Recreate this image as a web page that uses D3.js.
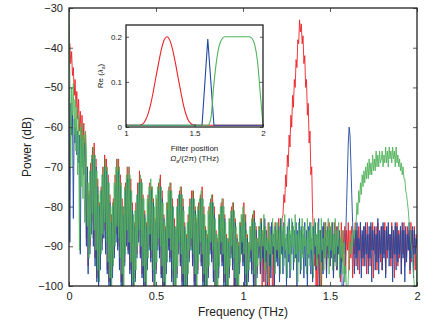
<!DOCTYPE html>
<html>
<head>
<meta charset="utf-8">
<script src="https://cdn.jsdelivr.net/npm/d3@7"></script>
<style>
  body { margin: 0; background: #fff; }
  svg { display: block; font-family: "Liberation Sans", Arial, sans-serif; }
</style>
</head>
<body>
<div id="chart"></div>
<script>
// Spectra sampled every 0.005 THz from 0 to 2 THz (dB), one row per 0.1 THz
const freqStep = 0.005;
const redPower = [
  -40, -39, -44, -41, -47, -45, -52, -48, -55, -51, -58, -53, -61, -56, -63, -57, -65, -59, -67, -61,
  -88, -70, -95, -76, -90, -69, -84, -65, -88, -64, -93, -68, -98, -73, -101, -79, -94, -75, -89, -70,
  -86, -67, -91, -68, -96, -72, -99, -77, -103, -82, -97, -78, -92, -72, -87, -68, -90, -68, -95, -72,
  -99, -78, -102, -80, -94, -74, -88, -70, -91, -70, -96, -73, -100, -79, -104, -84, -98, -79, -92, -74,
  -88, -71, -92, -73, -97, -77, -101, -81, -104, -84, -95, -77, -90, -74, -93, -75, -98, -78, -102, -83,
  -96, -78, -90, -74, -92, -72, -97, -76, -101, -82, -106, -85, -96, -79, -90, -75, -93, -74, -98, -78,
  -102, -83, -104, -85, -97, -78, -91, -76, -94, -75, -99, -78, -103, -84, -107, -87, -99, -82, -93, -78,
  -90, -76, -94, -76, -99, -80, -103, -83, -96, -79, -91, -77, -94, -75, -99, -80, -102, -85, -107, -87,
  -97, -80, -91, -78, -93, -77, -98, -80, -102, -86, -105, -88, -97, -82, -91, -79, -94, -78, -99, -82,
  -103, -87, -105, -88, -97, -83, -92, -80, -95, -79, -100, -83, -103, -87, -105, -89, -96, -84, -91, -82,
  -94, -79, -99, -82, -102, -87, -98, -89, -93, -85, -96, -82, -99, -81, -103, -85, -97, -88, -92, -85,
  -96, -83, -101, -86, -94, -85, -104, -88, -97, -84, -103, -90, -95, -85, -106, -89, -100, -84, -93, -86,
  -93, -83, -97, -84, -90, -83, -82, -77, -79, -72, -75, -67, -70, -62, -65, -57, -60, -52, -55, -48,
  -50, -43, -45, -38, -39, -33, -36, -34, -39, -37, -44, -42, -50, -48, -57, -54, -64, -61, -72, -70,
  -82, -87, -95, -88, -101, -92, -105, -89, -98, -86, -104, -90, -96, -85, -93, -84, -97, -86, -92, -84,
  -95, -85, -92, -87, -98, -84, -93, -86, -96, -85, -91, -87, -99, -84, -94, -86, -92, -85, -97, -86,
  -91, -84, -96, -86, -93, -85, -98, -87, -92, -84, -95, -86, -91, -85, -97, -84, -93, -87, -95, -85,
  -92, -86, -97, -84, -93, -87, -95, -85, -91, -84, -98, -86, -92, -85, -96, -84, -93, -87, -94, -85,
  -96, -85, -92, -84, -97, -86, -93, -85, -91, -87, -95, -84, -93, -86, -98, -85, -92, -84, -95, -86,
  -93, -85, -97, -86, -92, -84, -95, -87, -93, -85, -91, -86, -97, -84, -94, -86, -92, -85, -96, -87,
  -88
];
const bluePower = [
  -50, -89, -54, -62, -56, -83, -58, -64, -60, -67, -61, -69, -62, -92, -63, -70, -65, -72, -64, -74,
  -90, -70, -97, -77, -92, -71, -87, -68, -90, -67, -95, -70, -99, -75, -102, -80, -96, -76, -91, -72,
  -88, -70, -92, -71, -97, -74, -100, -79, -104, -84, -98, -80, -93, -75, -89, -71, -91, -71, -96, -75,
  -100, -80, -103, -82, -95, -76, -90, -73, -92, -73, -97, -76, -101, -81, -104, -85, -99, -81, -93, -77,
  -89, -74, -93, -74, -98, -78, -102, -82, -105, -85, -96, -79, -91, -76, -94, -76, -99, -79, -103, -84,
  -97, -80, -91, -76, -93, -75, -98, -78, -102, -83, -105, -86, -97, -81, -91, -77, -94, -76, -99, -80,
  -103, -85, -105, -86, -98, -80, -92, -77, -95, -77, -100, -80, -104, -85, -106, -88, -100, -84, -94, -80,
  -91, -78, -95, -78, -100, -81, -104, -84, -97, -81, -92, -78, -95, -78, -100, -82, -103, -86, -106, -88,
  -98, -82, -92, -79, -94, -79, -99, -82, -103, -87, -106, -89, -98, -83, -92, -80, -95, -80, -100, -83,
  -104, -88, -106, -89, -98, -84, -93, -82, -96, -81, -101, -84, -104, -88, -106, -90, -97, -85, -92, -83,
  -95, -82, -100, -84, -103, -88, -99, -90, -94, -86, -97, -84, -100, -83, -104, -86, -98, -89, -93, -86,
  -97, -84, -93, -87, -99, -83, -94, -86, -101, -89, -95, -85, -98, -84, -92, -87, -100, -85, -94, -88,
  -95, -85, -99, -83, -92, -86, -97, -84, -93, -88, -100, -85, -94, -83, -98, -87, -92, -84, -96, -86,
  -93, -84, -100, -86, -94, -83, -97, -85, -92, -87, -98, -84, -95, -86, -101, -85, -93, -84, -97, -88,
  -99, -85, -92, -84, -96, -87, -93, -83, -101, -86, -94, -85, -97, -84, -92, -88, -98, -85, -93, -86,
  -95, -86, -93, -84, -98, -87, -94, -85, -96, -88, -92, -86, -97, -90, -101, -103, -98, -94, -88, -80,
  -72, -64, -60, -62, -69, -77, -84, -90, -97, -86, -93, -84, -96, -88, -91, -84, -98, -86, -93, -85,
  -95, -84, -92, -87, -97, -85, -93, -84, -99, -86, -91, -85, -96, -87, -94, -83, -97, -86, -92, -85,
  -96, -84, -93, -86, -98, -85, -91, -84, -95, -87, -93, -85, -99, -86, -92, -84, -96, -85, -94, -87,
  -92, -85, -97, -84, -93, -86, -99, -85, -94, -87, -91, -84, -96, -86, -93, -85, -98, -86, -92, -88,
  -90
];
const greenPower = [
  -28, -48, -70, -50, -57, -49, -62, -53, -66, -55, -72, -57, -91, -60, -75, -59, -78, -62, -84, -61,
  -66, -85, -74, -93, -71, -88, -67, -82, -65, -86, -67, -91, -71, -96, -77, -99, -76, -92, -72, -87,
  -70, -84, -68, -89, -70, -94, -74, -98, -80, -101, -79, -95, -74, -90, -70, -85, -68, -88, -70, -93,
  -74, -97, -80, -100, -75, -92, -72, -86, -70, -89, -72, -94, -76, -99, -82, -102, -81, -96, -77, -90,
  -74, -86, -72, -90, -74, -95, -78, -99, -83, -103, -78, -93, -75, -87, -73, -91, -75, -96, -80, -100,
  -77, -94, -75, -88, -73, -90, -75, -95, -79, -99, -84, -102, -79, -94, -76, -88, -74, -91, -76, -96,
  -80, -100, -85, -103, -80, -95, -77, -89, -75, -92, -77, -97, -81, -101, -86, -104, -84, -97, -80, -91,
  -78, -88, -76, -92, -78, -97, -82, -101, -80, -94, -78, -89, -76, -92, -78, -97, -82, -100, -86, -103,
  -81, -95, -79, -89, -77, -91, -79, -96, -83, -100, -87, -103, -82, -95, -80, -89, -78, -92, -80, -97,
  -84, -101, -88, -104, -83, -95, -81, -90, -79, -93, -81, -98, -85, -101, -89, -103, -84, -94, -82, -89,
  -80, -92, -82, -97, -86, -100, -89, -96, -85, -91, -83, -94, -81, -97, -84, -101, -88, -95, -85, -90,
  -83, -94, -86, -90, -82, -96, -85, -91, -88, -99, -84, -92, -87, -95, -83, -90, -86, -97, -84, -91,
  -84, -93, -86, -97, -83, -90, -85, -95, -82, -91, -87, -98, -84, -92, -86, -96, -83, -90, -85, -94,
  -82, -92, -87, -99, -84, -91, -86, -96, -83, -93, -85, -90, -88, -97, -83, -92, -86, -95, -84, -91,
  -85, -98, -83, -90, -87, -95, -84, -92, -86, -100, -83, -91, -88, -96, -84, -93, -86, -90, -83, -97,
  -85, -91, -84, -96, -87, -92, -83, -95, -86, -90, -84, -98, -88, -93, -86, -97, -89, -99, -95, -102,
  -104, -98, -93, -89, -92, -87, -90, -86, -88, -85, -84, -79, -82, -76, -79, -74, -77, -72, -75, -71,
  -74, -70, -73, -69, -73, -68, -72, -69, -72, -67, -71, -68, -71, -66, -70, -67, -70, -66, -69, -68,
  -66, -70, -67, -69, -65, -69, -66, -70, -65, -68, -66, -69, -65, -68, -66, -70, -65, -69, -67, -70,
  -68, -71, -69, -72, -70, -73, -73, -76, -77, -79, -81, -84, -86, -89, -91, -94, -97, -100, -102, -104,
  -92
];

const freqTicks = [0, 0.5, 1, 1.5, 2];
const freqTickLabels = ["0", "0.5", "1", "1.5", "2"];
const powerTicks = [-100, -90, -80, -70, -60, -50, -40, -30];

// Inset: filter response vs filter position, every 0.02 THz from 1 to 2 THz
const insetStep = 0.02;
const redFilter = [
  0.004, 0.004, 0.004, 0.004, 0.004, 0.004,
  0.006, 0.014, 0.028, 0.05, 0.08, 0.113, 0.145, 0.174, 0.194, 0.2,
  0.192, 0.172, 0.143, 0.11, 0.078, 0.048, 0.026, 0.012, 0.006,
  0.004, 0.004, 0.004, 0.004, 0.004, 0.004, 0.004, 0.004, 0.004, 0.004,
  0.004, 0.004, 0.004, 0.004, 0.004, 0.004, 0.004, 0.004, 0.004, 0.004,
  0.004, 0.004, 0.004, 0.004, 0.004, 0.004
];
const greenFilter = [
  0.004, 0.004, 0.004, 0.004, 0.004, 0.004, 0.004, 0.004, 0.004, 0.004,
  0.004, 0.004, 0.004, 0.004, 0.004, 0.004, 0.004, 0.004, 0.004, 0.004,
  0.004, 0.004, 0.004, 0.004, 0.004, 0.004, 0.004, 0.004, 0.004, 0.004,
  0.004,
  0.02, 0.09, 0.145, 0.18, 0.195, 0.2, 0.2, 0.2, 0.2, 0.2, 0.2, 0.2, 0.2, 0.2, 0.2,
  0.196, 0.182, 0.145, 0.075, 0.004
];
const blueFilterPos = [1.0, 1.555, 1.597, 1.642, 2.0];
const blueFilter = [0.004, 0.004, 0.195, 0.004, 0.004];
const insetXTicks = [1, 1.5, 2];
const insetXTickLabels = ["1", "1.5", "2"];
const insetYTicks = [0, 0.1, 0.2];
const insetYTickLabels = ["0", "0.1", "0.2"];

const colors = { red: "#ec2328", blue: "#1f489f", green: "#52b35c" };

const width = 444;
const height = 326;
const margin = { top: 8, right: 27, bottom: 40, left: 69 };

const svg = d3
  .select("#chart")
  .append("svg")
  .attr("width", width)
  .attr("height", height);

const x = d3.scaleLinear().domain([0, 2]).range([margin.left, width - margin.right]);
const y = d3.scaleLinear().domain([-100, -30]).range([height - margin.bottom, margin.top]);

svg
  .append("clipPath")
  .attr("id", "plot-clip")
  .append("rect")
  .attr("x", x(0))
  .attr("y", y(-30))
  .attr("width", x(2) - x(0))
  .attr("height", y(-100) - y(-30));

// Traces
const trace = d3
  .line()
  .x((d, i) => x(i * freqStep))
  .y((d) => y(d));

const traces = svg.append("g").attr("clip-path", "url(#plot-clip)");
[
  [redPower, colors.red],
  [bluePower, colors.blue],
  [greenPower, colors.green],
].forEach(([values, color]) => {
  traces
    .append("path")
    .attr("d", trace(values))
    .attr("fill", "none")
    .attr("stroke", color)
    .attr("stroke-width", 0.9)
    .attr("stroke-linejoin", "round");
});

// Axes with inward ticks on all four sides
function styleAxis(g, fontSize) {
  g.select(".domain").remove();
  g.selectAll(".tick line").attr("stroke", "#333").attr("stroke-width", 0.8);
  g.selectAll(".tick text").attr("fill", "#222").style("font-size", fontSize + "px");
}

svg
  .append("g")
  .attr("transform", `translate(0,${y(-100)})`)
  .call(
    d3.axisBottom(x)
      .tickValues(freqTicks)
      .tickFormat((d, i) => freqTickLabels[i])
      .tickSizeInner(-4)
      .tickSizeOuter(0)
      .tickPadding(6)
  )
  .call((g) => styleAxis(g, 11));

svg
  .append("g")
  .attr("transform", `translate(0,${y(-30)})`)
  .call(d3.axisTop(x).tickValues(freqTicks).tickFormat("").tickSizeInner(-4).tickSizeOuter(0))
  .call((g) => styleAxis(g, 11));

svg
  .append("g")
  .attr("transform", `translate(${x(0)},0)`)
  .call(
    d3.axisLeft(y)
      .tickValues(powerTicks)
      .tickSizeInner(-4)
      .tickSizeOuter(0)
      .tickPadding(6)
  )
  .call((g) => styleAxis(g, 11));

svg
  .append("g")
  .attr("transform", `translate(${x(2)},0)`)
  .call(d3.axisRight(y).tickValues(powerTicks).tickFormat("").tickSizeInner(-4).tickSizeOuter(0))
  .call((g) => styleAxis(g, 11));

svg
  .append("rect")
  .attr("x", x(0))
  .attr("y", y(-30))
  .attr("width", x(2) - x(0))
  .attr("height", y(-100) - y(-30))
  .attr("fill", "none")
  .attr("stroke", "#222")
  .attr("stroke-width", 1.3);

svg
  .append("text")
  .attr("x", (x(0) + x(2)) / 2)
  .attr("y", 316)
  .attr("text-anchor", "middle")
  .style("font-size", "12px")
  .attr("fill", "#222")
  .text("Frequency (THz)");

svg
  .append("text")
  .attr("transform", `translate(31,${(y(-30) + y(-100)) / 2}) rotate(-90)`)
  .attr("text-anchor", "middle")
  .style("font-size", "12px")
  .attr("fill", "#222")
  .text("Power (dB)");

// Inset
const ix = d3.scaleLinear().domain([1, 2]).range([126, 263]);
const iy = d3.scaleLinear().domain([0, 0.226]).range([127, 25]);

const inset = svg.append("g");
inset
  .append("rect")
  .attr("x", ix(1))
  .attr("y", iy(0.226))
  .attr("width", ix(2) - ix(1))
  .attr("height", iy(0) - iy(0.226))
  .attr("fill", "#fff");

const filterCurve = d3
  .line()
  .x((d, i) => ix(1 + i * insetStep))
  .y((d) => iy(d))
  .curve(d3.curveMonotoneX);

inset
  .append("path")
  .attr("d", filterCurve(redFilter))
  .attr("fill", "none")
  .attr("stroke", colors.red)
  .attr("stroke-width", 1.1);

inset
  .append("path")
  .attr(
    "d",
    d3.line().x((d, i) => ix(blueFilterPos[i])).y((d) => iy(d))(blueFilter)
  )
  .attr("fill", "none")
  .attr("stroke", colors.blue)
  .attr("stroke-width", 1.1);

inset
  .append("path")
  .attr("d", filterCurve(greenFilter))
  .attr("fill", "none")
  .attr("stroke", colors.green)
  .attr("stroke-width", 1.1);

inset
  .append("g")
  .attr("transform", `translate(0,${iy(0)})`)
  .call(
    d3.axisBottom(ix)
      .tickValues(insetXTicks)
      .tickFormat((d, i) => insetXTickLabels[i])
      .tickSizeInner(-3)
      .tickSizeOuter(0)
      .tickPadding(3)
  )
  .call((g) => styleAxis(g, 8));

inset
  .append("g")
  .attr("transform", `translate(${ix(1)},0)`)
  .call(
    d3.axisLeft(iy)
      .tickValues(insetYTicks)
      .tickFormat((d, i) => insetYTickLabels[i])
      .tickSizeInner(-3)
      .tickSizeOuter(0)
      .tickPadding(4)
  )
  .call((g) => styleAxis(g, 8));

inset
  .append("g")
  .attr("transform", `translate(${ix(2)},0)`)
  .call(d3.axisRight(iy).tickValues(insetYTicks).tickFormat("").tickSizeInner(-3).tickSizeOuter(0))
  .call((g) => styleAxis(g, 8));

inset
  .append("rect")
  .attr("x", ix(1))
  .attr("y", iy(0.226))
  .attr("width", ix(2) - ix(1))
  .attr("height", iy(0) - iy(0.226))
  .attr("fill", "none")
  .attr("stroke", "#222")
  .attr("stroke-width", 1.3);

inset
  .append("text")
  .attr("x", (ix(1) + ix(2)) / 2)
  .attr("y", 151)
  .attr("text-anchor", "middle")
  .style("font-size", "8px")
  .attr("fill", "#222")
  .text("Filter position");

const posLabel = inset
  .append("text")
  .attr("x", (ix(1) + ix(2)) / 2)
  .attr("y", 161)
  .attr("text-anchor", "middle")
  .style("font-size", "8px")
  .attr("fill", "#222");
posLabel.append("tspan").style("font-style", "italic").text("Ω");
posLabel.append("tspan").attr("dy", 2).style("font-size", "5px").style("font-style", "italic").text("a");
posLabel.append("tspan").attr("dy", -2).text("/(2π) (THz)");

const reLabel = inset
  .append("text")
  .attr("transform", `translate(103,${(iy(0) + iy(0.226)) / 2}) rotate(-90)`)
  .attr("text-anchor", "middle")
  .style("font-size", "8px")
  .attr("fill", "#222");
reLabel.append("tspan").text("Re (");
reLabel.append("tspan").style("font-style", "italic").text("λ");
reLabel.append("tspan").attr("dy", 2).style("font-size", "5px").style("font-style", "italic").text("a");
reLabel.append("tspan").attr("dy", -2).text(")");
</script>
</body>
</html>
